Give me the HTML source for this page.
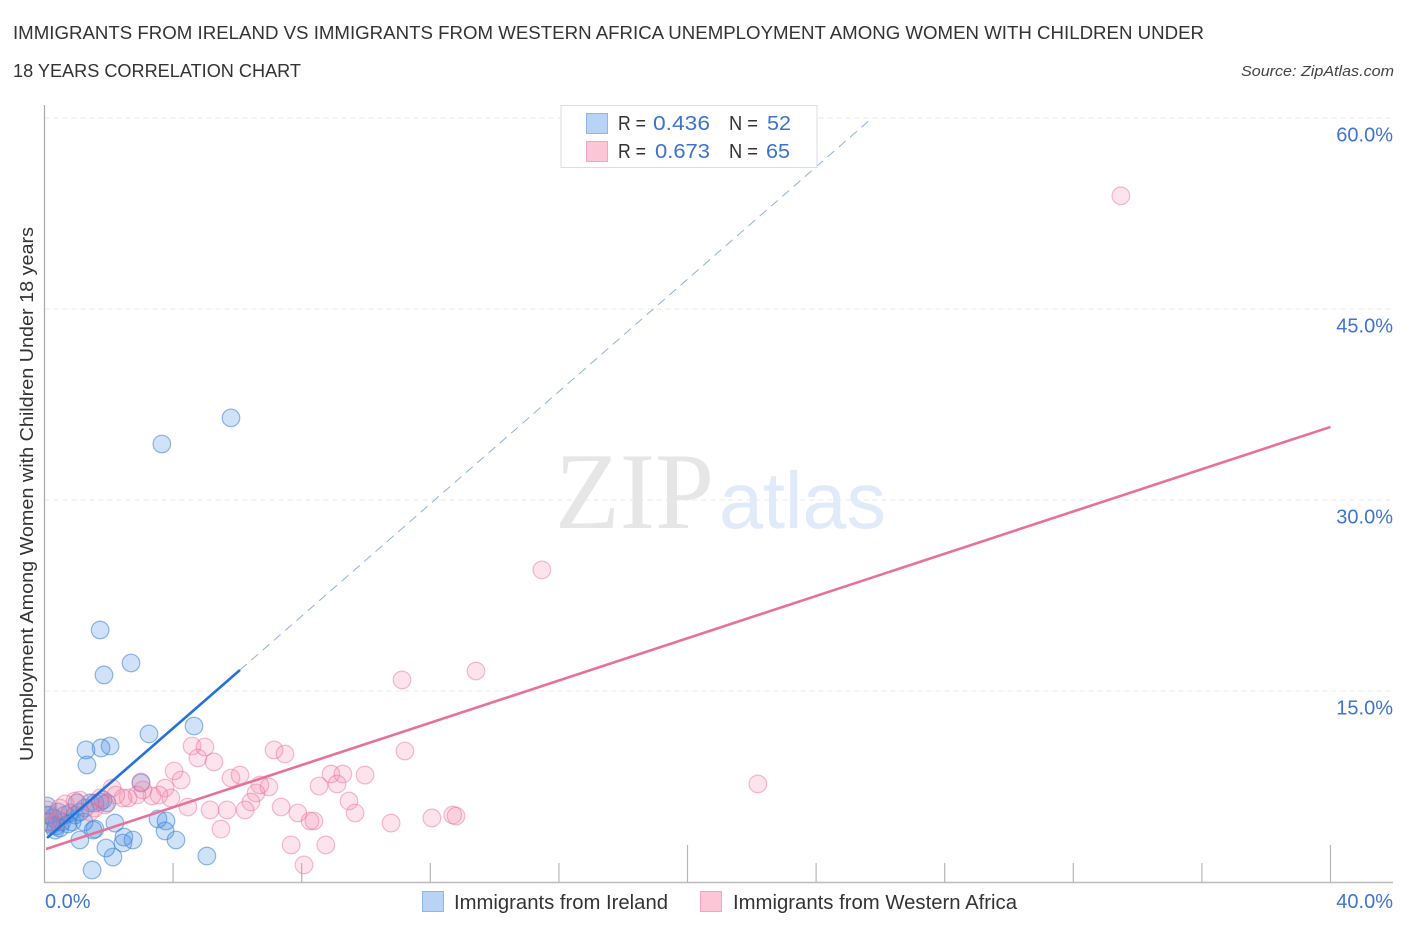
<!DOCTYPE html>
<html lang="en">
<head>
<meta charset="utf-8">
<title>Immigrants from Ireland vs Immigrants from Western Africa Correlation Chart</title>
<style>
html,body{margin:0;padding:0;background:#fff;}
svg{display:block;font-family:"Liberation Sans",sans-serif;}
</style>
</head>
<body>
<svg id="chart" width="1406" height="930" viewBox="0 0 1406 930" xmlns="http://www.w3.org/2000/svg">
  <defs>
    <clipPath id="plot-clip"><rect x="45" y="100" width="1350" height="782"/></clipPath>
  </defs>
  <rect x="0" y="0" width="1406" height="930" fill="#fff"/>
  <text x="13" y="39" font-size="18.5" fill="#333" textLength="1191" lengthAdjust="spacingAndGlyphs">IMMIGRANTS FROM IRELAND VS IMMIGRANTS FROM WESTERN AFRICA UNEMPLOYMENT AMONG WOMEN WITH CHILDREN UNDER</text>
  <text x="13" y="77" font-size="18.5" fill="#333" textLength="288" lengthAdjust="spacingAndGlyphs">18 YEARS CORRELATION CHART</text>
  <text x="1394" y="76" font-size="15" font-style="italic" fill="#444" text-anchor="end" textLength="153" lengthAdjust="spacingAndGlyphs">Source: ZipAtlas.com</text>
  <g>
    <text x="555" y="528" font-family="'Liberation Serif',serif" font-size="109" fill="#e6e6e6" textLength="159" lengthAdjust="spacingAndGlyphs">ZIP</text>
    <text x="719" y="528" font-family="'Liberation Sans',sans-serif" font-size="80" fill="#e0eaf8" textLength="167" lengthAdjust="spacingAndGlyphs">atlas</text>
  </g>
  <g id="grid"></g>
  <g id="axes"></g>
  <g id="points-ireland" clip-path="url(#plot-clip)"></g>
  <g id="points-africa" clip-path="url(#plot-clip)"></g>
  <g id="trends"></g>
  <text transform="translate(33,761) rotate(-90)" x="0" y="0" font-size="18" fill="#333" textLength="534" lengthAdjust="spacingAndGlyphs">Unemployment Among Women with Children Under 18 years</text>

  <g>
    <rect x="561" y="105.500" width="256" height="62" fill="#fff" stroke="#dddddd" stroke-width="1"/>
    <rect x="586.500" y="113.500" width="21" height="20" fill="#b9d3f7" stroke="#8db6ec" stroke-width="1"/>
    <rect x="586.500" y="141.500" width="21" height="20" fill="#fcc6d7" stroke="#f2a7bf" stroke-width="1"/>
    <g font-size="20">
      <text x="618" y="130" fill="#333" textLength="28" lengthAdjust="spacingAndGlyphs">R =</text>
      <text x="653" y="130" fill="#3b73cf" textLength="57" lengthAdjust="spacingAndGlyphs">0.436</text>
      <text x="729" y="130" fill="#333" textLength="29" lengthAdjust="spacingAndGlyphs">N =</text>
      <text x="767" y="130" fill="#3b73cf" textLength="24" lengthAdjust="spacingAndGlyphs">52</text>
      <text x="618" y="158" fill="#333" textLength="28" lengthAdjust="spacingAndGlyphs">R =</text>
      <text x="655" y="158" fill="#3b73cf" textLength="55" lengthAdjust="spacingAndGlyphs">0.673</text>
      <text x="729" y="158" fill="#333" textLength="29" lengthAdjust="spacingAndGlyphs">N =</text>
      <text x="766" y="158" fill="#3b73cf" textLength="24" lengthAdjust="spacingAndGlyphs">65</text>
    </g>
  </g>

  <g>
    <g>
      <rect x="422.500" y="891.500" width="21" height="20" fill="#b9d3f7" stroke="#8db6ec" stroke-width="1"/>
      <text x="454" y="909" font-size="20" fill="#333" textLength="214" lengthAdjust="spacingAndGlyphs">Immigrants from Ireland</text>
    </g>
    <g>
      <rect x="700.500" y="891.500" width="21" height="20" fill="#fcc6d7" stroke="#f2a7bf" stroke-width="1"/>
      <text x="733" y="909" font-size="20" fill="#333" textLength="284" lengthAdjust="spacingAndGlyphs">Immigrants from Western Africa</text>
    </g>
  </g>
</svg>
<script>
var irelandX = [5.80,3.65,1.73,2.69,1.85,4.65,3.25,2.04,1.76,1.29,1.32,3.00,1.48,2.13,1.91,2.44,2.75,2.47,1.10,1.57,1.51,2.19,3.53,3.78,3.75,4.09,5.05,1.73,1.94,1.57,1.01,0.08,0.17,0.23,0.33,0.48,0.54,0.64,0.79,0.86,0.95,0.42,0.26,1.26,1.42,1.82,1.23,0.05,0.11,0.36,0.73,1.10];
var irelandY = [36.45,34.40,19.79,17.20,16.26,12.25,11.63,10.68,10.53,10.37,9.19,7.78,0.94,1.96,2.67,3.06,3.30,3.53,3.30,4.16,4.08,4.63,4.95,4.79,4.01,3.30,2.04,6.28,6.21,6.21,6.21,5.97,5.26,4.48,4.08,4.24,4.71,5.26,5.42,4.71,5.26,5.50,5.03,5.81,6.21,6.44,4.71,5.26,4.71,4.40,4.56,5.50];
var africaX = [33.48,15.47,13.42,11.12,11.21,22.19,8.91,9.28,9.97,9.10,8.54,9.47,9.66,10.78,12.05,12.70,12.80,8.26,8.38,8.75,8.07,7.88,4.59,4.99,4.77,5.27,4.03,4.25,5.80,6.08,7.14,7.48,6.98,6.70,6.58,6.42,6.24,5.68,5.15,4.46,5.49,7.36,7.67,3.00,3.93,3.75,3.56,3.34,2.88,2.60,2.44,2.10,2.22,3.06,1.88,1.57,1.10,0.95,0.64,0.48,0.42,0.17,0.08,1.73,1.42];
var africaY = [53.89,24.51,16.57,15.87,10.29,7.70,8.48,8.48,8.40,7.70,7.54,6.36,5.42,4.63,5.03,5.26,5.18,4.79,4.79,2.91,1.34,5.42,10.68,10.60,9.74,9.43,8.72,8.01,8.17,8.40,10.37,10.05,7.46,7.62,6.99,6.28,5.66,5.66,5.66,5.89,4.16,5.89,2.91,7.86,6.60,7.38,6.83,6.76,6.83,6.60,6.60,7.38,6.83,7.23,6.05,5.81,6.44,6.36,6.13,5.81,4.87,4.71,5.66,6.60,5.50];
var irelandSolidX = [0.08,6.08];
var irelandSolidY = [3.46,16.65];
var irelandDashX = [6.08,25.74];
var irelandDashY = [16.65,60];
var africaTrendX = [0.05,40];
var africaTrendY = [2.59,35.74];
var yTickValues = [15,30,45,60];
var yTickLabels = ["15.0%","30.0%","45.0%","60.0%"];
var xTickValues = [4,8,12,16,20,24,28,32,36,40];
var xMajorTicks = [20,40];
var xEndValues = [0,40];
var xEndLabels = ["0.0%","40.0%"];

var SVGNS = 'http://www.w3.org/2000/svg';
function xScale(v){ return 44.5 + v * 32.15; }
function yScale(v){ return 882 - v * 12.733; }
function make(tag, parent, attrs){
  var el = document.createElementNS(SVGNS, tag);
  for (var k in attrs) { el.setAttribute(k, attrs[k]); }
  parent.appendChild(el);
  return el;
}

var gridG = document.getElementById('grid');
var axesG = document.getElementById('axes');
yTickValues.forEach(function(v, i){
  var line = make('line', gridG, {x1:44.5, x2:1393, y1:yScale(v), y2:yScale(v), stroke:'#e8e8e8', 'stroke-width':1, 'stroke-dasharray':'5 4'});
  
  
  var label = make('text', axesG, {x:1393, y:yScale(v) + 23.5, 'font-size':20, fill:'#3f74d1', 'text-anchor':'end'});
  label.textContent = yTickLabels[i];
  
  
});

var yAxis = make('line', axesG, {x1:44.5, x2:44.5, y1:105, y2:883, stroke:'#aaaaaa', 'stroke-width':1.2});


var xAxis = make('line', axesG, {x1:44, x2:1393, y1:882.5, y2:882.5, stroke:'#bbbbbb', 'stroke-width':1.4});



xTickValues.forEach(function(v){
  var top = xMajorTicks.indexOf(v) >= 0 ? 845 : 863;
  var tick = make('line', axesG, {x1:xScale(v), x2:xScale(v), y1:top, y2:882, stroke:'#b5b5b5', 'stroke-width':1.2});
  
  
});

xEndValues.forEach(function(v, i){
  var lab = make('text', axesG, {x: i === 0 ? xScale(v) + 0.5 : 1393, y:908, 'font-size':20, fill:'#3f74d1', 'text-anchor': i === 0 ? 'start' : 'end'});
  lab.textContent = xEndLabels[i];
  
  
});

var irelandG = document.getElementById('points-ireland');
irelandX.forEach(function(v, i){
  var c = make('circle', irelandG, {cx:xScale(v), cy:yScale(irelandY[i]), r:8.8, fill:'rgba(74,144,226,0.26)', stroke:'rgba(58,125,214,0.55)', 'stroke-width':1.2});
  
  
});
var africaG = document.getElementById('points-africa');
africaX.forEach(function(v, i){
  var c = make('circle', africaG, {cx:xScale(v), cy:yScale(africaY[i]), r:8.8, fill:'rgba(244,130,168,0.22)', stroke:'rgba(232,106,148,0.45)', 'stroke-width':1.2});
  
  
});

var trendsG = document.getElementById('trends');
var t1 = make('line', trendsG, {x1:xScale(irelandDashX[0]), y1:yScale(irelandDashY[0]), x2:xScale(irelandDashX[1]), y2:yScale(irelandDashY[1]), stroke:'#8fb0e0', 'stroke-width':1, 'stroke-dasharray':'9 6'});


var t2 = make('line', trendsG, {x1:xScale(africaTrendX[0]), y1:yScale(africaTrendY[0]), x2:xScale(africaTrendX[1]), y2:yScale(africaTrendY[1]), stroke:'#e8709c', 'stroke-width':2.6});


var t3 = make('line', trendsG, {x1:xScale(irelandSolidX[0]), y1:yScale(irelandSolidY[0]), x2:xScale(irelandSolidX[1]), y2:yScale(irelandSolidY[1]), stroke:'#2472d8', 'stroke-width':2.6});


</script>
</body>
</html>
